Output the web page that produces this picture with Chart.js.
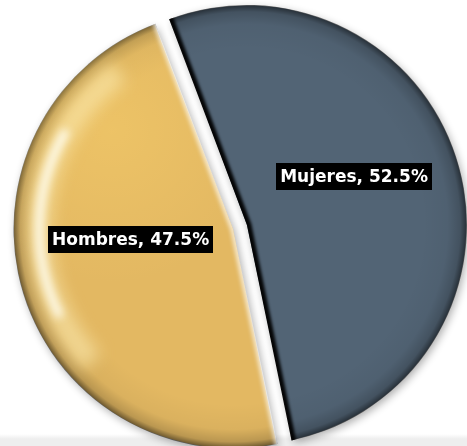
<!DOCTYPE html>
<html>
<head>
<meta charset="utf-8">
<script src="https://cdn.jsdelivr.net/npm/chart.js@4.4.1/dist/chart.umd.min.js"></script>
<style>
  html, body { margin: 0; padding: 0; }
  body { width: 467px; height: 446px; overflow: hidden;
         background: linear-gradient(#ffffff 0px, #ffffff 434px, #eeeeee 439px, #eeeeee 446px); }
  canvas { display: block; }
</style>
</head>
<body>
<canvas id="pieChart" width="467" height="446"></canvas>
<script>
// chart data
const labels = ['Mujeres', 'Hombres'];
const values = [52.5, 47.5];
const colors = ['#526475', '#E3B862'];

// label box placement inside each slice (angle shift in degrees, fraction of radius)
const labelShift = [-8.0, 10.4];
const labelDist = [0.535, 0.47];

// slice centre and drawn radius, following what ArcElement.draw does with offset
function arcGeom(arc) {
    const p = arc.getProps(['x', 'y', 'startAngle', 'endAngle', 'outerRadius', 'circumference']);
    const q = (arc.options.offset || 0) / 4;
    const half = (p.startAngle + p.endAngle) / 2;
    const fix = 1 - Math.sin(Math.min(Math.PI, p.circumference || 0));
    return {
        x: p.x + Math.cos(half) * q,
        y: p.y + Math.sin(half) * q,
        r: p.outerRadius + q * fix,
        a0: p.startAngle, a1: p.endAngle, half: half
    };
}

function slicePath(ctx, g, extra) {
    ctx.beginPath();
    ctx.moveTo(g.x, g.y);
    ctx.arc(g.x, g.y, g.r + extra, g.a0, g.a1);
    ctx.closePath();
}

const shadePlugin = {
    id: 'shade',
    beforeDatasetsDraw(chart) {
        const ctx = chart.ctx;
        ctx.save();
        ctx.shadowColor = 'rgba(0,0,0,0.33)';
        ctx.shadowBlur = 9;
        ctx.shadowOffsetX = 2;
        ctx.shadowOffsetY = 3;
    },
    afterDatasetsDraw(chart) {
        const ctx = chart.ctx;
        ctx.restore();
        const arcs = chart.getDatasetMeta(0).data;
        arcs.forEach((arc, i) => {
            const g = arcGeom(arc);
            ctx.save();
            slicePath(ctx, g, 0.5);
            ctx.clip();

            // darker rim
            const rg = ctx.createRadialGradient(g.x, g.y, g.r * 0.8, g.x, g.y, g.r + 2);
            rg.addColorStop(0, 'rgba(0,0,0,0)');
            rg.addColorStop(0.55, 'rgba(0,0,0,0.04)');
            rg.addColorStop(0.82, 'rgba(0,0,0,0.18)');
            rg.addColorStop(1, 'rgba(0,0,0,0.62)');
            ctx.fillStyle = rg;
            ctx.fillRect(0, 0, chart.width, chart.height);

            const p0x = g.x + Math.cos(g.a0) * (g.r + 5), p0y = g.y + Math.sin(g.a0) * (g.r + 5);
            const p1x = g.x + Math.cos(g.a1) * (g.r + 5), p1y = g.y + Math.sin(g.a1) * (g.r + 5);

            if (labels[i] === 'Hombres') {
                // warm light on the upper left
                const lg = ctx.createRadialGradient(g.x - g.r * 0.55, g.y - g.r * 0.45, 0, g.x - g.r * 0.55, g.y - g.r * 0.45, g.r * 0.7);
                lg.addColorStop(0, 'rgba(255,215,110,0.35)');
                lg.addColorStop(1, 'rgba(255,215,110,0)');
                ctx.fillStyle = lg;
                ctx.fillRect(0, 0, chart.width, chart.height);
                // glossy highlight on the left rim
                ctx.filter = 'blur(8px)';
                ctx.strokeStyle = 'rgba(255,238,180,0.6)';
                ctx.lineWidth = 24;
                ctx.beginPath();
                ctx.arc(g.x, g.y, g.r * 0.885, Math.PI * 0.76, Math.PI * 1.3);
                ctx.stroke();
                ctx.filter = 'blur(4px)';
                ctx.strokeStyle = 'rgba(255,255,245,0.95)';
                ctx.lineWidth = 8;
                ctx.beginPath();
                ctx.arc(g.x, g.y, g.r * 0.885, Math.PI * 0.85, Math.PI * 1.17);
                ctx.stroke();
                // light cut edge
                ctx.filter = 'blur(2px)';
                ctx.strokeStyle = 'rgba(255,255,255,0.75)';
                ctx.lineWidth = 5;
                ctx.beginPath();
                ctx.moveTo(p0x, p0y);
                ctx.lineTo(g.x, g.y);
                ctx.lineTo(p1x, p1y);
                ctx.stroke();
            } else {
                // dark cut edge
                ctx.filter = 'blur(1.5px)';
                ctx.strokeStyle = 'rgba(0,0,0,0.95)';
                ctx.lineWidth = 9;
                ctx.beginPath();
                ctx.moveTo(p0x, p0y);
                ctx.lineTo(g.x, g.y);
                ctx.lineTo(p1x, p1y);
                ctx.stroke();
            }
            ctx.restore();
        });
    }
};

const labelPlugin = {
    id: 'sliceLabels',
    afterDraw(chart) {
        const ctx = chart.ctx;
        const arcs = chart.getDatasetMeta(0).data;
        ctx.save();
        ctx.font = 'bold 17px "DejaVu Sans"';
        ctx.textAlign = 'center';
        ctx.textBaseline = 'middle';
        arcs.forEach((arc, i) => {
            const g = arcGeom(arc);
            const a = g.half + labelShift[i] * Math.PI / 180;
            const x = g.x + Math.cos(a) * g.r * labelDist[i];
            const y = g.y + Math.sin(a) * g.r * labelDist[i];
            const text = labels[i] + ', ' + values[i] + '%';
            const w = ctx.measureText(text).width + 8;
            ctx.fillStyle = '#000000';
            ctx.fillRect(Math.round(x - w / 2), Math.round(y - 13.5), Math.round(w), 27);
            ctx.fillStyle = '#ffffff';
            ctx.fillText(text, x, y + 1);
        });
        ctx.restore();
    }
};

new Chart(document.getElementById('pieChart').getContext('2d'), {
    type: 'pie',
    data: {
        labels: labels,
        datasets: [{
            data: values,
            backgroundColor: colors,
            borderWidth: 0,
            offset: [27.6, 30.4],
            hoverOffset: 0
        }]
    },
    options: {
        responsive: false,
        animation: false,
        events: [],
        rotation: -20.7,
        radius: 212.6,
        layout: { padding: { left: 13.6, right: 0, top: 7.8, bottom: 0 } },
        plugins: {
            legend: { display: false },
            tooltip: { enabled: false }
        }
    },
    plugins: [shadePlugin, labelPlugin]
});
</script>
</body>
</html>
